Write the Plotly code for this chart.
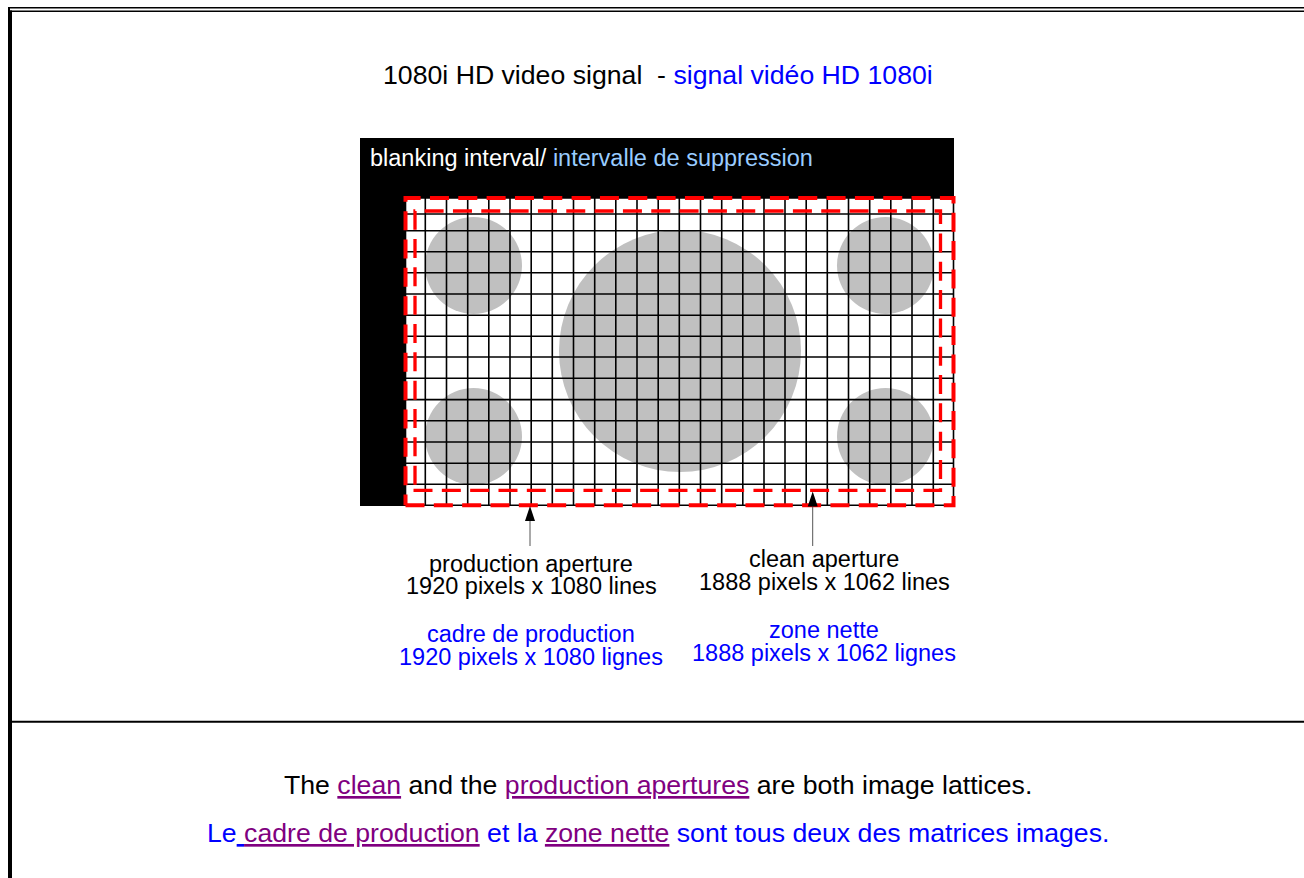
import plotly.graph_objects as go

BLACK = "#000000"
BLUE = "#0000ff"
PURPLE = "#800080"
LIGHTBLUE = "#99ccff"
RED = "#ff0000"
GREY = "#c0c0c0"

grid_x = [425.3, 446.5, 467.7, 488.8, 510.0, 531.2, 552.3, 573.5, 594.7, 615.8, 637.0, 658.2, 679.3,
          700.5, 721.7, 742.8, 764.0, 785.0, 806.2, 827.3, 848.5, 869.7, 890.8, 912.0, 933.3]
grid_y = [214.0, 230.7, 251.8, 272.8, 294.0, 315.2, 336.3, 357.0, 378.3, 399.6, 420.7, 442.0, 463.2, 484.3]

lattice_left, lattice_right, lattice_top, lattice_bottom = 405.5, 953.5, 198.0, 505.3
clean_left, clean_right, clean_top, clean_bottom = 415.0, 940.5, 211.0, 490.3
clean_start = 413.5
blank_left, blank_right, blank_top, blank_bottom = 360.0, 954.0, 138.0, 506.0

circle_x = [473.5, 885.5, 473.5, 885.5, 680.0]
circle_y = [265.5, 265.5, 436.5, 436.5, 351.0]
circle_d = [97, 97, 97, 97, 242]

arrow_x = [530.0, 812.7]
arrow_tip_y = [506.0, 491.5]
arrow_tail_y = [546.0, 546.0]

def seg(xs0, xs1, ys0, ys1):
    x, y = [], []
    for a, b, c, d in zip(xs0, xs1, ys0, ys1):
        x += [a, b, None]
        y += [c, d, None]
    return x, y

def box(l, r, t, b):
    # counter-clockwise from bottom-left
    return [l, r, r, l, l], [b, b, t, t, b]

fig = go.Figure()

def line(x, y, color, width, dash=None):
    fig.add_trace(go.Scatter(x=x, y=y, mode="lines", hoverinfo="skip",
                             line=dict(color=color, width=width, dash=dash)))

def fill(x, y, color):
    fig.add_trace(go.Scatter(x=x, y=y, mode="lines", fill="toself", fillcolor=color, hoverinfo="skip",
                             line=dict(color=color, width=0)))

# page frame
line([1304, 8], [7.7, 7.7], BLACK, 1.4)
line([1304, 10], [11.3, 11.3], BLACK, 1.4)
line([9, 9], [7, 878], BLACK, 2)
line([11, 11], [10.6, 878], BLACK, 2)
line([10, 1304], [721.7, 721.7], BLACK, 2)

# frame of the video signal
fill(*box(blank_left, blank_right, blank_top, blank_bottom), BLACK)
fill(*box(lattice_left, lattice_right, lattice_top, lattice_bottom), "#ffffff")

fig.add_trace(go.Scatter(x=circle_x, y=circle_y, mode="markers", hoverinfo="skip",
                         marker=dict(size=circle_d, color=GREY, opacity=1, line=dict(width=0))))

vx, vy = seg(grid_x, grid_x, [lattice_top] * len(grid_x), [lattice_bottom] * len(grid_x))
line(vx, vy, BLACK, 1.6)
hx, hy = seg([lattice_left] * len(grid_y), [lattice_right] * len(grid_y), grid_y, grid_y)
line(hx, hy, BLACK, 1.6)
line(*box(lattice_left, lattice_right, lattice_top, lattice_bottom), BLACK, 1.6)

line(*box(lattice_left, lattice_right, lattice_top, lattice_bottom), RED, 4, "19px,9.33px")
cx, cy = box(clean_left, clean_right, clean_top, clean_bottom)
cx[0] = clean_start
line(cx, cy, RED, 3.3, "19px,9.33px")

for ax, tip, tail in zip(arrow_x, arrow_tip_y, arrow_tail_y):
    line([ax, ax], [tip + 10, tail], "#555555", 1)
    fill([ax, ax + 5, ax - 5, ax], [tip, tip + 15, tip + 15, tip], BLACK)

def sp(t, c):
    return f'<span style="color:{c}">{t}</span>'

def un(t, c):
    return f'<span style="color:{c};text-decoration:underline">{t}</span>'

BIG, SMALL = 26.67, 23.5
texts = [
    (658, 75, "1080i HD video signal  - " + sp("signal vidéo HD 1080i", BLUE), BIG, "center"),
    (367.5, 158, sp("blanking interval/ ", "#ffffff") + sp("intervalle de suppression", LIGHTBLUE), SMALL, "left"),
    (531, 564, "production aperture", SMALL, "center"),
    (531, 586, "1920 pixels x 1080 lines", SMALL, "center"),
    (824, 558.5, "clean aperture", SMALL, "center"),
    (824, 581.5, "1888 pixels x 1062 lines", SMALL, "center"),
    (531, 633.5, sp("cadre de production", BLUE), SMALL, "center"),
    (531, 657, sp("1920 pixels x 1080 lignes", BLUE), SMALL, "center"),
    (824, 629.5, sp("zone nette", BLUE), SMALL, "center"),
    (824, 653, sp("1888 pixels x 1062 lignes", BLUE), SMALL, "center"),
    (658, 785, "The " + un("clean", PURPLE) + " and the " + un("production apertures", PURPLE) + " are both image lattices.", BIG, "center"),
    (658, 833, sp("Le", BLUE) + un(" ", BLUE) + un("cadre de production", PURPLE) + sp(" et la ", BLUE) + un("zone nette", PURPLE) + sp(" sont tous deux des matrices images.", BLUE), BIG, "center"),
]
annotations = [dict(x=x, y=y, xref="x", yref="y", text=t, showarrow=False, xanchor=a, yanchor="middle",
                    font=dict(size=s, color=BLACK, family="Liberation Sans"))
               for x, y, t, s, a in texts]

fig.update_layout(
    width=1304, height=878, margin=dict(l=0, r=0, t=0, b=0), showlegend=False,
    paper_bgcolor="#ffffff", plot_bgcolor="#ffffff", annotations=annotations,
    xaxis=dict(range=[0, 1304], visible=False, fixedrange=True),
    yaxis=dict(range=[878, 0], visible=False, fixedrange=True),
)
fig.write_html("out.html", config={"displayModeBar": False},
               post_script="document.body.style.margin='0';document.documentElement.style.overflow='hidden';")
